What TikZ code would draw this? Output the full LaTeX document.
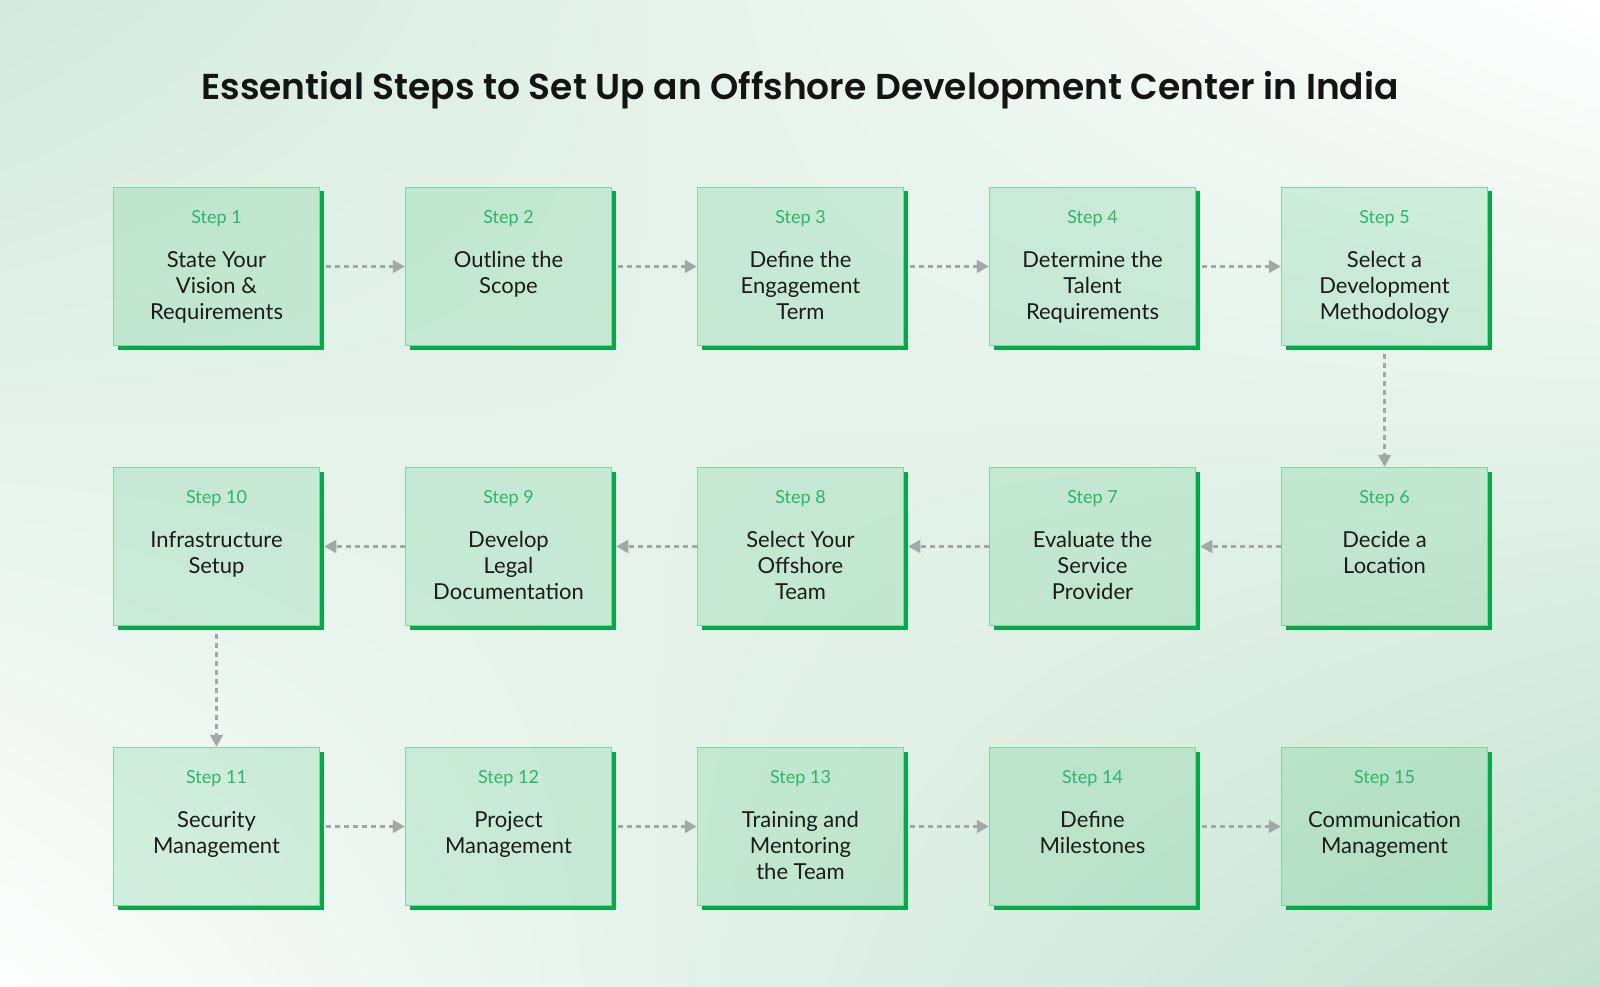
\documentclass[tikz,border=0pt]{standalone}
\usepackage{fontspec}
\setmainfont{Lato}
\newfontfamily\titlefont{Poppins}[UprightFont={* SemiBold}]
\usetikzlibrary{arrows.meta,calc,shadings}
\definecolor{bgTL}{HTML}{D3EADC}
\definecolor{bgBL}{HTML}{FDFEFD}
\definecolor{bgBR}{HTML}{C2E2CE}
\definecolor{boxgreen}{HTML}{28B864}
\definecolor{bordergreen}{HTML}{80D4A2}
\definecolor{shadowgreen}{HTML}{06A84A}
\definecolor{labelgreen}{HTML}{2DB66A}
\definecolor{textdark}{HTML}{1B1B1B}
\definecolor{titledark}{HTML}{141414}
\definecolor{arrowgray}{HTML}{A2A8A5}
\tikzset{
  stepbox/.style={draw=bordergreen, line width=1.5pt, fill=boxgreen, fill opacity=0.17,
    draw opacity=1, text opacity=1, minimum width=206pt, minimum height=158pt, inner sep=0pt},
  steplabel/.style={anchor=base, inner sep=0pt, text=labelgreen, font=\fontsize{18}{20}\selectfont},
  steptext/.style={anchor=base, inner sep=0pt, text=textdark, font=\fontsize{22}{26}\selectfont},
  conn/.style={draw=arrowgray, line width=2.2pt, dash pattern=on 5pt off 4pt,
    -{Triangle[length=12pt,width=13pt,fill=arrowgray]}},
  shadowfill/.style={fill=shadowgreen}
}
\newcommand\mkstep[5]{%
  \fill[shadowfill] (#2+205.5,#3+4) rectangle (#2+210,#3+162);
  \fill[shadowfill] (#2+4,#3+157.5) rectangle (#2+210,#3+162);
  \node[stepbox] (#1) at (#2+103,#3+79) {};
  \node[steplabel] (#1l) at (#2+103,#3+36) {Step #4};
  \node[steptext] (#1t) at (#2+103,#3+80) {\parbox[t]{200pt}{\centering #5}};
}
\begin{document}
\begin{tikzpicture}[x=1pt,y=-1pt]
\useasboundingbox (0,0) rectangle (1600,987);
\shade[upper left=bgTL, upper right=white, lower left=bgBL, lower right=bgBR] (0,0) rectangle (1600,987);
\node[anchor=base, inner sep=0pt, text=titledark, font=\titlefont\fontsize{36}{40}\selectfont] (title) at (800,100) {Essential Steps to Set Up an Offshore Development Center in India};
% row 1
\mkstep{b1}{113.5}{187.5}{1}{State Your\\Vision \&\\Requirements}
\mkstep{b2}{405.5}{187.5}{2}{Outline the\\Scope}
\mkstep{b3}{697.5}{187.5}{3}{Define the\\Engagement\\Term}
\mkstep{b4}{989.5}{187.5}{4}{Determine the\\Talent\\Requirements}
\mkstep{b5}{1281.5}{187.5}{5}{Select a\\Development\\Methodology}
% row 2
\mkstep{b6}{1281.5}{467.5}{6}{Decide a\\Location}
\mkstep{b7}{989.5}{467.5}{7}{Evaluate the\\Service\\Provider}
\mkstep{b8}{697.5}{467.5}{8}{Select Your\\Offshore\\Team}
\mkstep{b9}{405.5}{467.5}{9}{Develop\\Legal\\Documentation}
\mkstep{b10}{113.5}{467.5}{10}{Infrastructure\\Setup}
% row 3
\mkstep{b11}{113.5}{747.5}{11}{Security\\Management}
\mkstep{b12}{405.5}{747.5}{12}{Project\\Management}
\mkstep{b13}{697.5}{747.5}{13}{Training and\\Mentoring\\the Team}
\mkstep{b14}{989.5}{747.5}{14}{Define\\Milestones}
\mkstep{b15}{1281.5}{747.5}{15}{Communication\\Management}
% connectors
\draw[conn] ([xshift=6pt]b1.east) -- (b2.west);
\draw[conn] ([xshift=6pt]b2.east) -- (b3.west);
\draw[conn] ([xshift=6pt]b3.east) -- (b4.west);
\draw[conn] ([xshift=6pt]b4.east) -- (b5.west);
\draw[conn] ([yshift=-8pt]b5.south) -- (b6.north);
\draw[conn] (b6.west) -- ([xshift=4pt]b7.east);
\draw[conn] (b7.west) -- ([xshift=4pt]b8.east);
\draw[conn] (b8.west) -- ([xshift=4pt]b9.east);
\draw[conn] (b9.west) -- ([xshift=4pt]b10.east);
\draw[conn] ([yshift=-8pt]b10.south) -- (b11.north);
\draw[conn] ([xshift=6pt]b11.east) -- (b12.west);
\draw[conn] ([xshift=6pt]b12.east) -- (b13.west);
\draw[conn] ([xshift=6pt]b13.east) -- (b14.west);
\draw[conn] ([xshift=6pt]b14.east) -- (b15.west);
\end{tikzpicture}
\end{document}
